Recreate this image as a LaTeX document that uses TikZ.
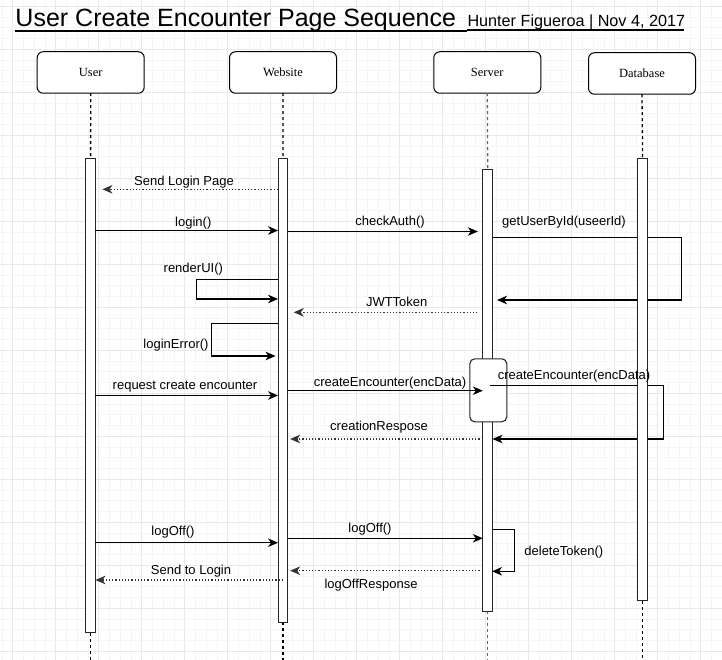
\documentclass[tikz,border=0pt]{standalone}
\usepackage{fontspec}
\setmainfont{Liberation Sans}
\newfontfamily\boxfont{Liberation Serif}
\usetikzlibrary{arrows.meta}
\begin{document}
\begin{tikzpicture}[x=1pt,y=-1pt,
  every node/.style={inner sep=0pt, outer sep=0pt},
  lbl/.style={font=\fontsize{13}{15}\selectfont, text height=9.4pt, text depth=2.6pt},
  head/.style={draw=black, line width=1pt, rounded corners=6pt, minimum width=107pt, minimum height=41.5pt, font=\boxfont\fontsize{12.5}{14}\selectfont, fill=white},
  bar/.style={draw=black!85, line width=1.1pt, fill=white, minimum width=9.7pt},
  life/.style={line width=1.3pt, dash pattern=on 3pt off 3pt},
  msg/.style={line width=1.1pt, -{Stealth[length=10pt,width=8.5pt,inset=3pt]}},
  ret/.style={msg, draw=black!80, dash pattern=on 1.2pt off 2pt},
  minorgrid/.style={draw=black!4, line width=0.7pt},
  majorgrid/.style={draw=black!9, line width=0.8pt},
]
\useasboundingbox (0,0) rectangle (722,660);
\fill[white] (0,0) rectangle (722,660);
% grid
\foreach \k in {0,...,67} {
  \pgfmathtruncatemacro{\m}{mod(\k,4)}
  \ifnum\m=1 \draw[majorgrid] ({1.95+10.75*\k},0) -- ({1.95+10.75*\k},660);
  \else \draw[minorgrid] ({1.95+10.75*\k},0) -- ({1.95+10.75*\k},660); \fi
}
\foreach \k in {0,...,61} {
  \pgfmathtruncatemacro{\m}{mod(\k,4)}
  \ifnum\m=0 \draw[majorgrid] (0,{6.3+10.75*\k}) -- (722,{6.3+10.75*\k});
  \else \draw[minorgrid] (0,{6.3+10.75*\k}) -- (722,{6.3+10.75*\k}); \fi
}
% title
\node[anchor=base west, font=\fontsize{25}{30}\selectfont] (title) at (15.5,26.7) {User Create Encounter Page Sequence};
\node[anchor=base west, font=\fontsize{16.2}{19}\selectfont] (sub) at (467.5,26.7) {Hunter Figueroa | Nov 4, 2017};
\draw[line width=1.7pt] (14.7,31) -- (467,31);
\draw[line width=1.1pt] (467,30) -- (684,30);
% heads
\node[head] (uh) at (90.7,72.5) {User};
\node[head] (wh) at (283,72.5) {Website};
\node[head] (sh) at (487.3,72.5) {Server};
\node[head] (dh) at (642,73.5) {Database};
% bars (positions)
\node[bar, minimum height=473.9pt] (ub) at (90.6,395.8) {};
\node[bar, minimum height=463.3pt] (wb) at (282.9,390.5) {};
\node[bar, minimum height=441.6pt] (sb) at (487.7,390.65) {};
\coordinate (ue) at (90.6,660);
\coordinate (we) at (282.9,660);
\coordinate (se) at (487.7,660);
\coordinate (de) at (642.6,660);
\coordinate (dbtop) at (642.6,158.3);
\coordinate (dbbot) at (642.6,601);
% lifelines
\draw[life] (uh.south) -- (ub.north);
\draw[life] (ub.south) -- (ue);
\draw[life] (wh.south) -- (wb.north);
\draw[life] (wb.south) -- (we);
\draw[life, draw=black!60] (sh.south) -- (sb.north);
\draw[life, draw=black!60] (sb.south) -- (se);
\draw[life] (dh.south) -- (dbtop);
\draw[life] (dbbot) -- (de);
% redraw bars on top of lifelines
\node[bar, minimum height=473.9pt] at (ub) {};
\node[bar, minimum height=463.3pt] at (wb) {};
\node[bar, minimum height=441.6pt] at (sb) {};
% messages
\draw[ret, shorten >=7pt] (wb.west |- 0,189.3) -- (ub.east |- 0,189.3);
\draw[msg] (ub.east |- 0,230.5) -- (wb.west |- 0,230.5);
\draw[msg, shorten >=5pt] (wb.east |- 0,231.5) -- (sb.west |- 0,231.5);
\draw[msg, shorten >=4.5pt] (sb.east |- 0,237.3) -- ++(189,0) -- ++(0,62.7) -- (sb.east |- 0,300);
\draw[msg] (wb.west |- 0,279.3) -- ++(-81.3,0) -- ++(0,19.7) -- (wb.west |- 0,299);
\draw[ret, shorten >=6pt, shorten <=5.5pt] (sb.west |- 0,312.3) -- (wb.east |- 0,312.3);
\draw[msg, shorten >=2.5pt] (wb.west |- 0,323.3) -- ++(-66.8,0) -- ++(0,32.7) -- (wb.west |- 0,356);
\draw[msg] (ub.east |- 0,395.5) -- (wb.west |- 0,395.5);
\draw[ret, shorten >=2.4pt] (sb.west |- 0,439) -- (wb.east |- 0,439);
\draw[msg] (ub.east |- 0,542.7) -- (wb.west |- 0,542.7);
\draw[msg] (wb.east |- 0,538.3) -- (sb.west |- 0,538.3);
\draw[msg, shorten >=-0.5pt] (sb.east |- 0,529.3) -- ++(21.7,0) -- ++(0,42) -- (sb.east |- 0,571.3);
\draw[ret, shorten >=2.4pt] (sb.west |- 0,570.7) -- (wb.east |- 0,570.7);
\draw[ret, shorten <=-5pt] (wb.west |- 0,580) -- (ub.east |- 0,580);
% activation box on server
\node[draw=black!85, line width=1.1pt, fill=white, rounded corners=5pt, minimum width=37pt, minimum height=63pt] (act) at (488.3,390.3) {};
\draw[msg] (wb.east |- 0,390.7) -- (sb.west |- 0,390.7);
\draw[msg] ([xshift=-2.5pt]sb.east |- 0,385.3) -- ++(173,0) -- ++(0,53.7) -- (sb.east |- 0,439);
% database bar on top
\node[bar, minimum height=441.6pt] (db) at (642.6,379.65) {};
% labels
\node[lbl] (t1) at (184,182.5) {Send Login Page};
\node[lbl] (t2) at (193.3,223) {login()};
\node[lbl] (t3) at (390,222.5) {checkAuth()};
\node[lbl] (t4) at (564,222.5) {getUserById(useerId)};
\node[lbl] (t5) at (193.3,269) {renderUI()};
\node[lbl] (t6) at (396.7,303.5) {JWTToken};
\node[lbl, anchor=east] (t7) at (208.5,345) {loginError()};
\node[lbl] (t8) at (185,386) {request create encounter};
\node[lbl] (t9) at (390,383) {createEncounter(encData)};
\node[lbl] (t10) at (574,376.5) {createEncounter(encData)};
\node[lbl] (t11) at (379,427.5) {creationRespose};
\node[lbl] (t12) at (173,532) {logOff()};
\node[lbl] (t13) at (370,529) {logOff()};
\node[lbl] (t14) at (563.8,552.5) {deleteToken()};
\node[lbl] (t15) at (371,585.5) {logOffResponse};
\node[lbl] (t16) at (191,571) {Send to Login};
\end{tikzpicture}
\end{document}
